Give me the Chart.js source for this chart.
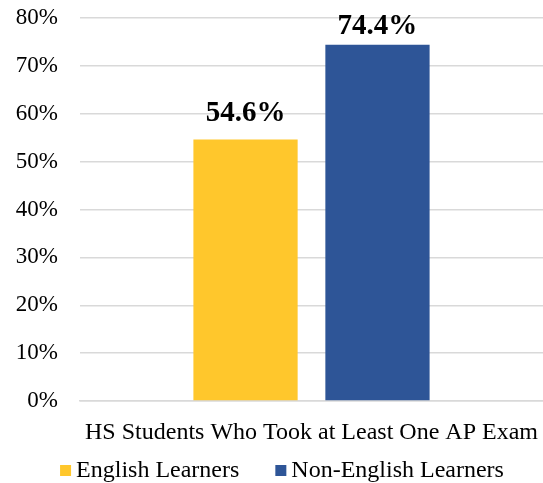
<!DOCTYPE html>
<html>
<head>
<meta charset="utf-8">
<script src="https://cdn.jsdelivr.net/npm/chart.js@4.4.1/dist/chart.umd.min.js"></script>
<style>
  html, body { margin: 0; padding: 0; background: #fff; }
  #wrap { width: 543px; height: 483px; }
</style>
</head>
<body>
<div id="wrap"><canvas id="c" width="543" height="483"></canvas></div>
<script>
const categories = ['HS Students Who Took at Least One AP Exam'];
const englishLearners = [54.6];
const nonEnglishLearners = [74.4];
const yTicks = [0, 10, 20, 30, 40, 50, 60, 70, 80];

const SERIF = "'Liberation Serif', 'Times New Roman', serif";

// Bold value labels drawn above each bar, kept inside the canvas near the top
const valueLabels = {
  id: 'valueLabels',
  afterDatasetsDraw(chart) {
    const ctx = chart.ctx;
    ctx.save();
    ctx.font = "bold 29px " + SERIF;
    ctx.fillStyle = '#000';
    ctx.textAlign = 'center';
    ctx.textBaseline = 'bottom';
    chart.data.datasets.forEach((ds, i) => {
      chart.getDatasetMeta(i).data.forEach((bar, j) => {
        const y = Math.max(bar.y - 12, 41);
        ctx.fillText(ds.data[j].toFixed(1) + '%', bar.x, y);
      });
    });
    ctx.restore();
  }
};

// Compact legend row at the bottom: small square swatch, tight gap to the text
const bottomLegend = {
  id: 'bottomLegend',
  afterDraw(chart) {
    const ctx = chart.ctx;
    const box = 11, gap = 5, itemGap = 36, centerX = 282, midY = 471;
    ctx.save();
    ctx.font = "24px " + SERIF;
    ctx.textBaseline = 'middle';
    ctx.textAlign = 'left';
    const items = chart.data.datasets.map(ds => ({
      label: ds.label, color: ds.backgroundColor, w: ctx.measureText(ds.label).width
    }));
    const total = items.reduce((s, it) => s + box + gap + it.w, 0) + itemGap * (items.length - 1);
    let x = centerX - total / 2;
    items.forEach(it => {
      ctx.fillStyle = it.color;
      ctx.fillRect(x, midY - box / 2 - 0.5, box, box);
      ctx.fillStyle = '#000';
      ctx.fillText(it.label, x + box + gap, midY);
      x += box + gap + it.w + itemGap;
    });
    ctx.restore();
  }
};

new Chart(document.getElementById('c'), {
  type: 'bar',
  data: {
    labels: categories,
    datasets: [
      { label: 'English Learners', data: englishLearners, backgroundColor: '#FFC72C' },
      { label: 'Non-English Learners', data: nonEnglishLearners, backgroundColor: '#2E5597' }
    ]
  },
  options: {
    responsive: false,
    animation: false,
    layout: { padding: { top: 18, right: 0, left: 16, bottom: 29 } },
    datasets: { bar: { categoryPercentage: 0.57, barPercentage: 0.79 } },
    scales: {
      y: {
        min: 0, max: 80,
        afterBuildTicks(axis) { axis.ticks = yTicks.map(v => ({ value: v })); },
        afterFit(axis) { axis.width = 64; axis.paddingTop = 0; axis.paddingBottom = 0; },
        ticks: {
          callback: v => v + '%',
          font: { family: SERIF, size: 23 },
          color: '#000',
          padding: 22
        },
        grid: { color: '#d9d9d9', lineWidth: 1.5, drawTicks: false },
        border: { display: false }
      },
      x: {
        // the wide category label may overhang the plot edges
        afterFit(axis) { axis.paddingLeft = 0; axis.paddingRight = 0; axis.height = 53; },
        ticks: { font: { family: SERIF, size: 24 }, color: '#000', padding: 17, maxRotation: 0, autoSkip: false },
        grid: { display: false, drawTicks: false },
        border: { color: '#d9d9d9', width: 1.5 }
      }
    },
    plugins: {
      legend: { display: false },
      tooltip: { enabled: false }
    }
  },
  plugins: [valueLabels, bottomLegend]
});
</script>
</body>
</html>
